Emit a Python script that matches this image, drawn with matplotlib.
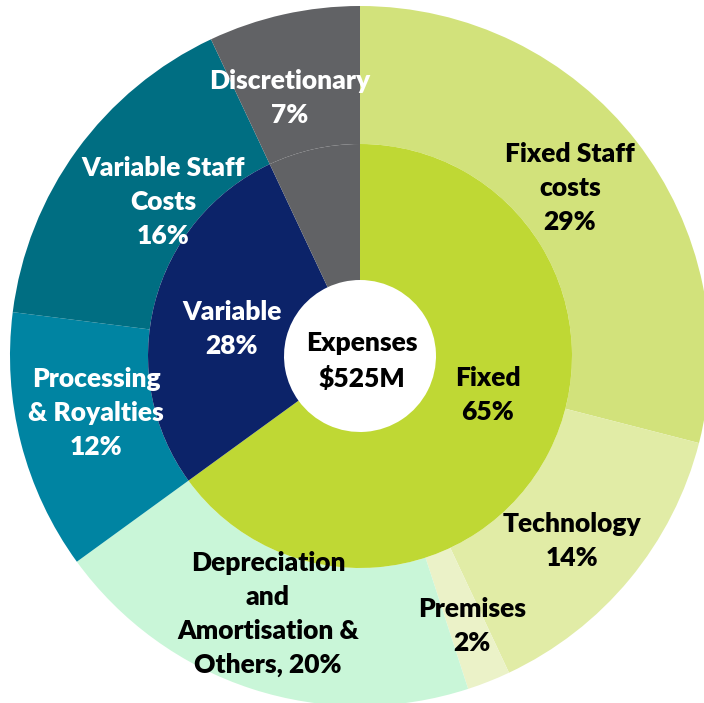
import matplotlib.pyplot as plt

# inner ring: main expense groups (% of total)
groups = ["Fixed", "Variable", "Discretionary"]
group_pct = [65, 28, 7]

# outer ring: breakdown (% of total), same clockwise order
items = ["Fixed Staff\ncosts", "Technology", "Premises",
         "Depreciation\nand\nAmortisation &\nOthers, 20%",
         "Processing\n& Royalties", "Variable Staff\nCosts", "Discretionary"]
item_pct = [29, 14, 2, 20, 12, 16, 7]

total_label = "Expenses\n$525M"

group_colors = ["#bfd834", "#0c2369", "#616265"]
item_colors = ["#d2e27b", "#e1eca6", "#ebf2c8", "#c9f6d8",
               "#0084a2", "#006e82", "#616265"]

# geometry in pixels (reference is 704 x 703)
W, H = 704, 703
cx, cy = 360, 356
r_out, r_mid, r_hole = 350, 212, 76

fig = plt.figure(figsize=(W / 100, H / 100), dpi=100)
ax = fig.add_axes([0, 0, 1, 1])

ax.pie(item_pct, radius=1.0, colors=item_colors, startangle=90,
       counterclock=False, wedgeprops=dict(width=(r_out - r_mid) / r_out, linewidth=0))
ax.pie(group_pct, radius=r_mid / r_out, colors=group_colors, startangle=90,
       counterclock=False, wedgeprops=dict(width=(r_mid - r_hole) / r_out, linewidth=0))

ax.set_xlim(-cx / r_out, (W - cx) / r_out)
ax.set_ylim(-(H - cy) / r_out, cy / r_out)
ax.set_aspect("equal")
ax.axis("off")


def px(x, y):
    return (x - cx) / r_out, (cy - y) / r_out


font = dict(family="Lato", fontweight="heavy", fontsize=19, ha="center", va="center",
            linespacing=1.5)

# label texts with their placement (pixel centres)
labels = [
    ("Discretionary\n7%", 290, 98, "white"),
    ("Variable Staff\nCosts\n16%", 163, 202, "white"),
    ("Variable\n28%", 232, 329, "white"),
    (total_label, 362, 361, "black"),
    ("Fixed Staff\ncosts\n29%", 570, 188, "black"),
    ("Fixed\n65%", 488, 395, "black"),
    ("Processing\n& Royalties\n12%", 96, 413, "white"),
    ("Technology\n14%", 572, 541, "black"),
    ("Premises\n2%", 472, 626, "black"),
    (items[3], 268, 614, "black"),
]
for text, x, y, c in labels:
    ax.text(*px(x, y), text, color=c, **font)

fig.savefig("out.png", dpi=100, facecolor="white")
